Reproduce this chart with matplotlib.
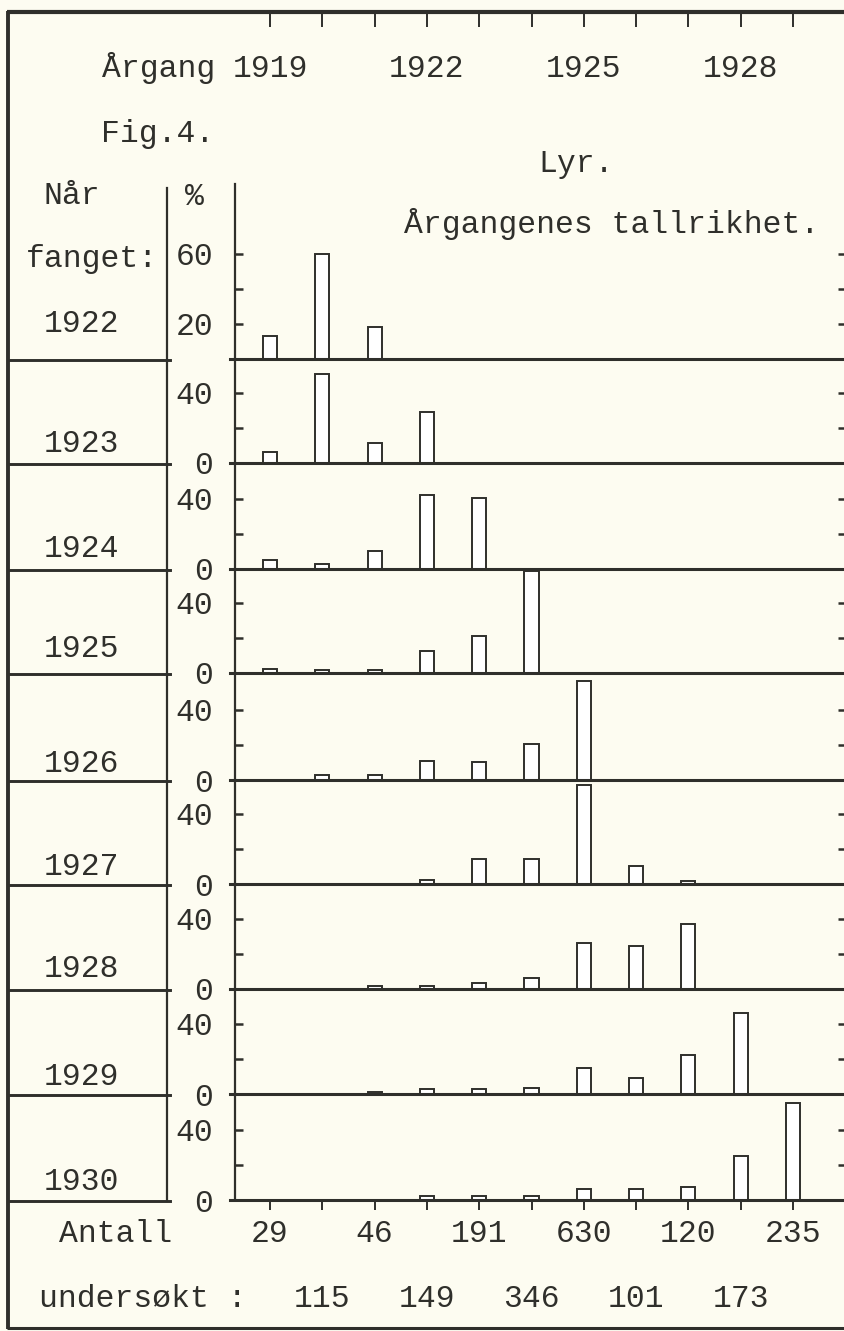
import matplotlib
matplotlib.use('Agg')
import matplotlib.pyplot as plt
import matplotlib.transforms as mtransforms
import numpy as np

plt.rcParams['font.family'] = ['Liberation Mono', 'DejaVu Sans Mono']

# Data: share (%) of each year class in the catch, by year caught
year_classes = [1919, 1920, 1921, 1922, 1923, 1924, 1925, 1926, 1927, 1928, 1929]
caught_years = [1922, 1923, 1924, 1925, 1926, 1927, 1928, 1929, 1930]
N = None
pct_1922 = [13, 60, 18, N, N, N, N, N, N, N, N]
pct_1923 = [6, 51, 11.5, 29, N, N, N, N, N, N, N]
pct_1924 = [5, 3, 10, 42, 40.5, N, N, N, N, N, N]
pct_1925 = [2, 1.5, 1.5, 12.5, 21, 58, N, N, N, N, N]
pct_1926 = [N, 3, 3, 11, 10, 20.5, 56.5, N, N, N, N]
pct_1927 = [N, N, N, 2, 14, 14, 56.5, 10, 1.5, N, N]
pct_1928 = [N, N, 1.5, 1.5, 3.5, 6, 26, 24.5, 37, N, N]
pct_1929 = [N, N, 1, 3, 3, 3.5, 15, 9, 22, 46, N]
pct_1930 = [N, N, N, 2.5, 2, 2, 6, 6, 7.5, 25, 55.5]
panels = [pct_1922, pct_1923, pct_1924, pct_1925, pct_1926,
          pct_1927, pct_1928, pct_1929, pct_1930]
# number of fish examined per year class
antall = [29, 115, 46, 149, 191, 346, 630, 101, 120, 173, 235]
top_year_labels = [1919, 1922, 1925, 1928]

# layout (pixels)
W, H = 844, 1331
ink = '#2f2f2b'
paper = '#fdfcf1'
fs = 22.6
baselines = [359, 463, 569, 673, 780, 884, 989, 1094, 1200]
label_base = [332, 452, 557, 657, 772, 875, 977, 1085, 1190]
px_per_pct = 1.752
ax_left, ax_right = 235, 846
x0 = 1919 + (ax_left - 270) / 52.3
x1 = 1919 + (ax_right - 270) / 52.3


def fx(px):
    return px / W


def fy(py):
    return 1 - py / H


def T(x, y, s, **kw):
    kw.setdefault('fontsize', fs)
    kw.setdefault('color', ink)
    kw.setdefault('va', 'baseline')
    return fig.text(fx(x), fy(y), s, **kw)


fig = plt.figure(figsize=(W / 100, H / 100), dpi=100, facecolor=paper)

# frame and left-column lines
bg = fig.add_axes([0, 0, 1, 1], zorder=0)
bg.set_xlim(0, W)
bg.set_ylim(H, 0)
bg.axis('off')
bg.plot([8, 8], [11, 1329], color=ink, lw=2.8, solid_capstyle='butt')
bg.plot([7, 846], [12, 12], color=ink, lw=3.0, solid_capstyle='butt')
bg.plot([7, 846], [1328, 1328], color=ink, lw=2.2, solid_capstyle='butt')
bg.plot([167, 167], [188, 1201], color=ink, lw=1.6)
for b in baselines:
    bg.plot([8, 170], [b + 1, b + 1], color=ink, lw=2.1)

# top ticks on the frame
ax_top = fig.add_axes([fx(ax_left), fy(100), fx(ax_right - ax_left), (100 - 12) / H],
                      zorder=2)
ax_top.set_facecolor('none')
ax_top.set_xlim(x0, x1)
for s in ax_top.spines.values():
    s.set_visible(False)
ax_top.set_yticks([])
ax_top.xaxis.tick_top()
ax_top.set_xticks(year_classes)
ax_top.tick_params(axis='x', direction='in', length=10.5, width=1.4, color=ink,
                   labeltop=False)

tr_top = mtransforms.blended_transform_factory(ax_top.transData, fig.transFigure)
for yr in top_year_labels:
    ax_top.text(yr, fy(77), str(yr), transform=tr_top, ha='center', va='baseline',
                fontsize=fs, color=ink)

T(102, 77, 'Årgang')
T(101, 142, 'Fig.4.')
T(538, 172, 'Lyr.')
T(43, 204, 'Når')
T(194, 205, '%', ha='center')
T(404, 233, 'Årgangenes tallrikhet.')
T(26, 267, 'fanget:')

# panels
axes = []
for k, (b, vals) in enumerate(zip(baselines, panels)):
    top = 184 if k == 0 else baselines[k - 1]
    ax = fig.add_axes([fx(ax_left), fy(b), fx(ax_right - ax_left), (b - top) / H],
                      zorder=3)
    ax.set_facecolor('none')
    ax.set_xlim(x0, x1)
    ax.set_ylim(0, (b - top) / px_per_pct)
    xs = [yc for yc, v in zip(year_classes, vals) if v is not None]
    hs = [v for v in vals if v is not None]
    ax.bar(xs, hs, width=0.27, facecolor='white', edgecolor=ink, linewidth=1.4,
           clip_on=False, zorder=2)
    ax.axhline(0, xmin=-5 / (ax_right - ax_left), xmax=1, color=ink, lw=2.2,
               clip_on=False, zorder=3)
    for side in ['top', 'right', 'bottom']:
        ax.spines[side].set_visible(False)
    ax.spines['left'].set_color(ink)
    ax.spines['left'].set_linewidth(1.6)
    if k == 0:
        ax.set_yticks([20, 40, 60], labels=['20', '', '60'])
    else:
        ax.set_yticks([0, 20, 40], labels=['0', '', '40'])
    ax.tick_params(axis='y', direction='in', length=5.8, width=1.8, color=ink,
                   right=True, pad=15.5, labelsize=fs, labelcolor=ink)
    if k == len(baselines) - 1:
        ax.set_xticks(year_classes)
        ax.tick_params(axis='x', direction='out', length=7, width=1.4, color=ink,
                       labelbottom=False)
    else:
        ax.set_xticks([])
    T(82, label_base[k], str(caught_years[k]), ha='center')
    axes.append(ax)

# counts examined, alternating rows
ax_b = axes[-1]
tr_b = mtransforms.blended_transform_factory(ax_b.transData, fig.transFigure)
for i, (yc, n) in enumerate(zip(year_classes, antall)):
    y = 1242 if i % 2 == 0 else 1307
    ax_b.text(yc, fy(y), str(n), transform=tr_b, ha='center', va='baseline',
              fontsize=fs, color=ink)
T(59, 1242, 'Antall')
T(39, 1307, 'undersøkt :')

fig.savefig('out.png', dpi=100, facecolor=paper)
